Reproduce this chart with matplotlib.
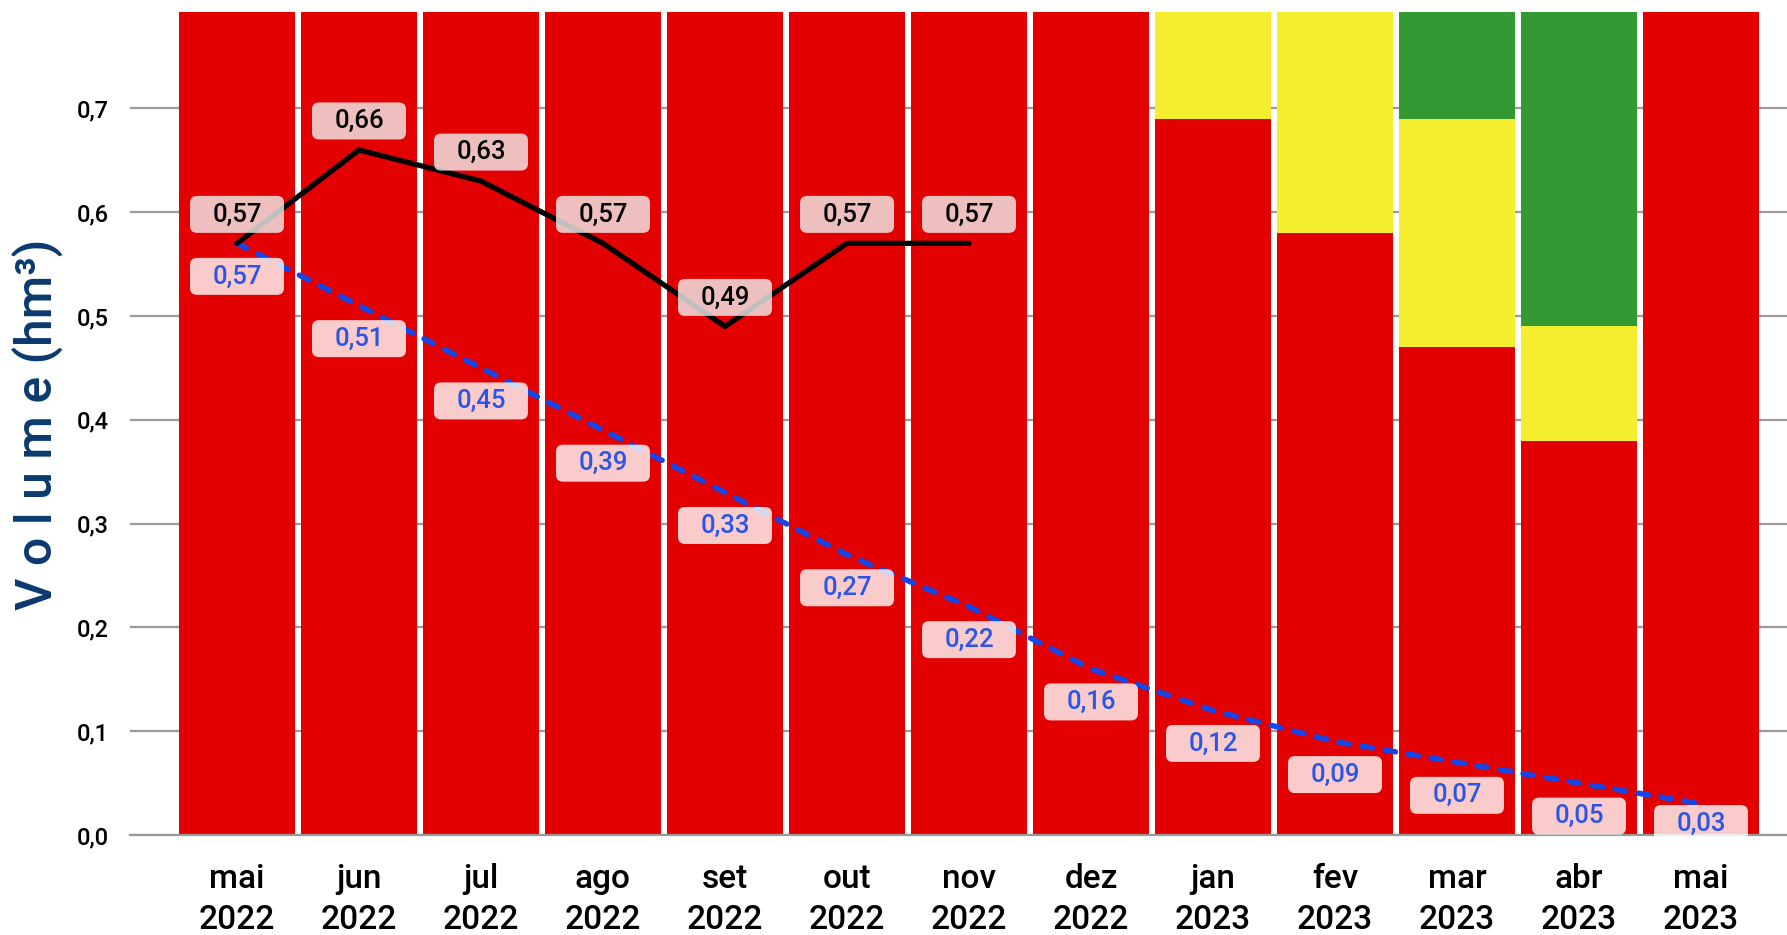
import matplotlib
matplotlib.use("Agg")
import matplotlib.pyplot as plt
from matplotlib.patches import FancyBboxPatch
from matplotlib.transforms import IdentityTransform
import numpy as np

plt.rcParams['font.family'] = ['Roboto', 'DejaVu Sans']

# ---------------- data ----------------
months = ['mai', 'jun', 'jul', 'ago', 'set', 'out', 'nov', 'dez',
          'jan', 'fev', 'mar', 'abr', 'mai']
years = ['2022'] * 8 + ['2023'] * 5
red_vals = [0.80, 0.80, 0.80, 0.80, 0.80, 0.80, 0.80, 0.80, 0.69, 0.58, 0.47, 0.38, 0.80]
yellow_vals = [0, 0, 0, 0, 0, 0, 0, 0, 0.11, 0.22, 0.22, 0.11, 0]
green_vals = [0, 0, 0, 0, 0, 0, 0, 0, 0, 0, 0.11, 0.31, 0]
observed = [0.57, 0.66, 0.63, 0.57, 0.49, 0.57, 0.57]
projected = [0.57, 0.51, 0.45, 0.39, 0.33, 0.27, 0.22, 0.16, 0.12, 0.09, 0.07, 0.05, 0.03]
yticks = [0.0, 0.1, 0.2, 0.3, 0.4, 0.5, 0.6, 0.7]

# ---------------- figure ----------------
W, H = 1787, 935
fig = plt.figure(figsize=(W / 100, H / 100), dpi=100)
ax_left, ax_right, ax_bottom, ax_top = 130, 1787, 100, 923
ax = fig.add_axes([ax_left / W, ax_bottom / H, (ax_right - ax_left) / W, (ax_top - ax_bottom) / H])

pitch = 122.0
c0 = 237.0
ax.set_xlim(-(c0 - ax_left) / pitch, (ax_right - c0) / pitch)
ax.set_ylim(0, 0.7929)

x = np.arange(len(months))
bw = 116 / 122
RED, YEL, GRN = '#e20000', '#f4ee2e', '#339933'
red_a = np.array(red_vals)
yel_a = np.array(yellow_vals)
grn_a = np.array(green_vals)
ax.bar(x, red_a, width=bw, color=RED, zorder=2, linewidth=0)
ax.bar(x, yel_a, width=bw, bottom=red_a, color=YEL, zorder=2, linewidth=0)
ax.bar(x, grn_a, width=bw, bottom=red_a + yel_a, color=GRN, zorder=2, linewidth=0)

# grid
ax.set_yticks(yticks)
ax.set_yticklabels([f"{t:.1f}".replace('.', ',') for t in yticks], fontsize=17,
                   fontweight='medium')
ax.yaxis.grid(True, color='#9a9a9a', linewidth=1.6, zorder=0)
ax.set_axisbelow(True)
ax.axhline(0, color='#9a9a9a', linewidth=1.6, zorder=3, clip_on=False)
for s in ax.spines.values():
    s.set_visible(False)
ax.tick_params(axis='y', length=0, pad=15)
ax.tick_params(axis='x', length=0, pad=20)
ax.set_xticks(x)
ax.set_xticklabels([f"{m}\n{y}" for m, y in zip(months, years)], fontsize=24,
                   linespacing=1.35, fontweight='medium')

# lines
BLUE_LINE = '#1646e8'
BLUE_TXT = '#2b55e8'
xo = np.arange(len(observed))
ax.plot(xo, observed, color='black', linewidth=3.8, solid_capstyle='round',
        solid_joinstyle='round', zorder=5)
xp = np.arange(len(projected))
ax.plot(xp, projected, color=BLUE_LINE, linewidth=4.0, dashes=(1.9, 2.3),
        dash_capstyle='round', zorder=4)

# labels
def fmt(v):
    return f"{v:.2f}".replace('.', ',')

def label(xd, yd, txt, dy, color, face, w=94, h=37):
    px, py = ax.transData.transform((xd, yd))
    cy = py + dy
    cy = max(cy, ax_bottom + h / 2 - 7)
    box = FancyBboxPatch((px - w / 2, cy - h / 2), w, h,
                         boxstyle='round,pad=0,rounding_size=7',
                         transform=IdentityTransform(), facecolor=face,
                         edgecolor='none', alpha=0.8, zorder=6)
    fig.add_artist(box)
    fig.text(px / W, cy / H, txt, ha='center', va='center', color=color,
             fontsize=18.5, fontweight='medium', zorder=7)

for xi, v in zip(xo, observed):
    label(xi, v, fmt(v), 29, 'black', '#f0f0f0')
for xi, v in zip(xp, projected):
    label(xi, v, fmt(v), -33, BLUE_TXT, '#ffffff')

# y axis label
fig.text(38 / W, 1 - 424 / H, 'V o l u m e (hm³)', rotation=90, ha='center', va='center',
         fontsize=36, color='#0a3a6e', fontweight='medium')

fig.savefig('out.png', dpi=100)
